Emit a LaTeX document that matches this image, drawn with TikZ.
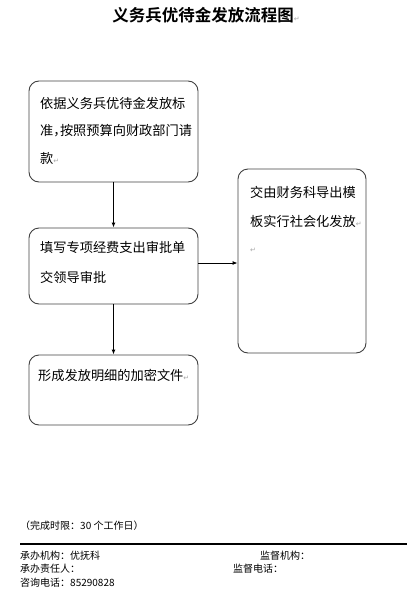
\documentclass[tikz,border=0pt]{standalone}
\usepackage{fontspec}
\usetikzlibrary{arrows.meta}
\newfontfamily\cjk[RawFeature={+halt}]{Noto Sans CJK SC}
\newfontfamily\cjkplain{Noto Sans CJK SC}
\newfontfamily\cjkbold{Noto Sans CJK SC Bold}
\newfontfamily\symf{DejaVu Sans}
\newcommand{\parmark}{{\color{black!35}\symf\fontsize{7}{7}\selectfont ↵}}
\tikzset{
  box/.style={draw=black!75, line width=0.9pt, rounded corners=10pt, inner sep=0pt},
  txt/.style={anchor=base west, inner sep=0pt, font=\cjk\fontsize{13.2}{13.2}\selectfont},
  foot/.style={anchor=base west, inner sep=0pt, font=\cjkplain\fontsize{10}{10}\selectfont},
  arr/.style={-{Latex[length=5pt,width=4pt]}, line width=0.9pt, black}
}
\begin{document}
\begin{tikzpicture}[x=1pt,y=-1pt]
\useasboundingbox (0,0) rectangle (415,589);
\node[anchor=base, inner sep=0pt, font=\cjkbold\fontsize{16.5}{16.5}\selectfont] (title) at (206,21) {义务兵优待金发放流程图\parmark};
\node[box, minimum width=169pt, minimum height=101pt] (b1) at (113.5,131.5) {};
\node[box, minimum width=169pt, minimum height=76pt] (b2) at (113.5,266) {};
\node[box, minimum width=169pt, minimum height=70pt] (b3) at (113.5,390) {};
\node[box, minimum width=128pt, minimum height=184pt] (b4) at (302,261) {};
\node[txt] (t1a) at (40,108) {依据义务兵优待金发放标};
\node[txt] (t1b) at (40,135) {准，按照预算向财政部门请};
\node[txt] (t1c) at (40,163) {款\parmark};
\node[txt] (t2a) at (40,252) {填写专项经费支出审批单};
\node[txt] (t2b) at (40,282) {交领导审批};
\node[txt] (t3a) at (38,380) {形成发放明细的加密文件\parmark};
\node[txt] (t4a) at (250,197) {交由财务科导出模};
\node[txt] (t4b) at (250,226) {板实行社会化发放\parmark};
\node[anchor=base west, inner sep=0pt] (t4c) at (250,252) {\parmark};
\draw[arr] (b1.south) -- (b2.north);
\draw[arr] (b2.south) -- (b3.north);
\draw[arr] ([yshift=3pt]b2.east) -- ([yshift=3pt]b2.east -| b4.west);
\node[foot] (lim) at (20,529) {（完成时限：30 个工作日）};
\coordinate (l1) at (20,544);
\coordinate (l2) at (407,544);
\draw[line width=1.2pt, black] (l1) -- (l2);
\node[foot] (f1) at (20,559) {承办机构：优抚科};
\node[foot] (f2) at (260,559) {监督机构：};
\node[foot] (f3) at (20,572) {承办责任人：};
\node[foot] (f4) at (233,572) {监督电话：};
\node[foot] (f5) at (20,586) {咨询电话：85290828};
\end{tikzpicture}
\end{document}
